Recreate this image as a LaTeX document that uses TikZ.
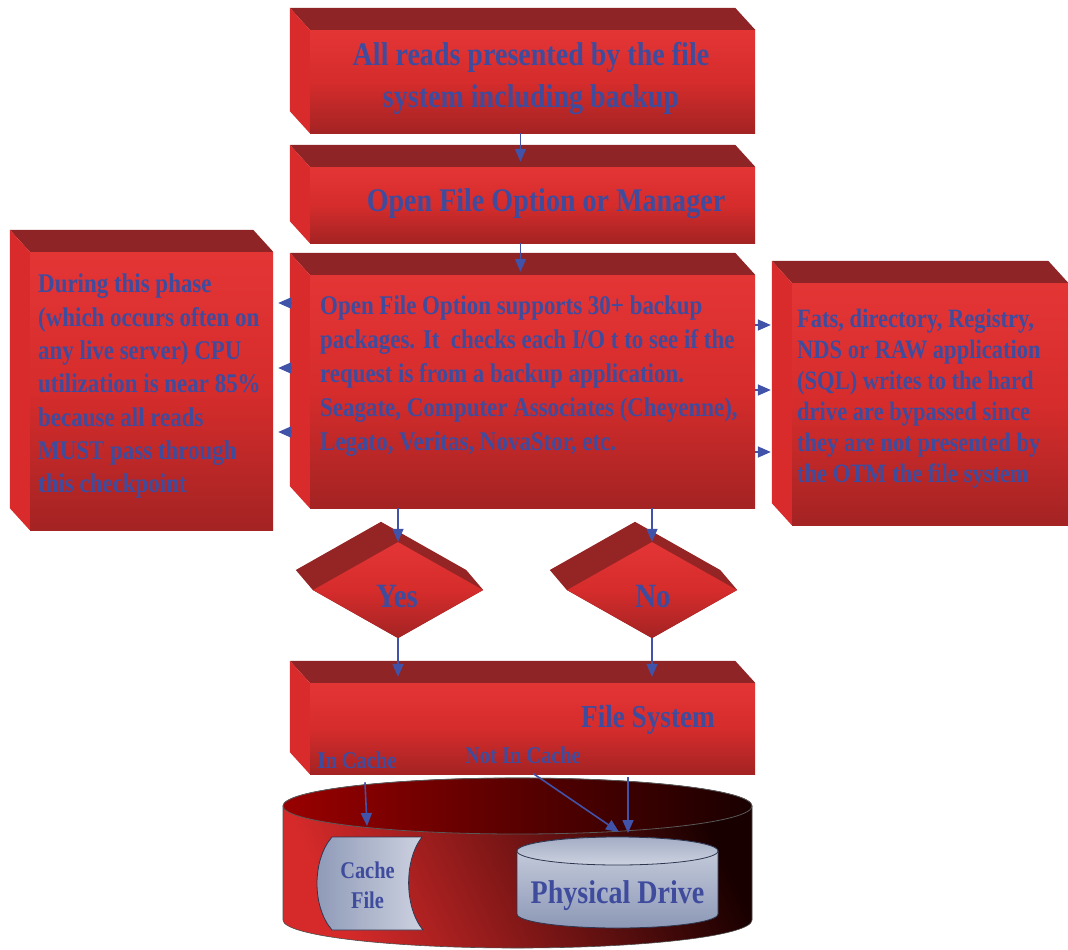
\documentclass[tikz,border=0pt]{standalone}
\usepackage{fontspec}
\setmainfont{Liberation Serif}[FakeStretch=0.85]
\usepackage{tikz}
\usetikzlibrary{arrows.meta, shapes.geometric, calc, backgrounds}
\definecolor{boxtop}{HTML}{8E2426}
\definecolor{boxside}{HTML}{D92B2B}
\definecolor{boxhi}{HTML}{E43535}
\definecolor{boxmid}{HTML}{D62C2C}
\definecolor{boxlo}{HTML}{A42323}
\definecolor{cylred}{HTML}{D62A2A}
\definecolor{txtblue}{HTML}{3F4C9E}
\definecolor{arrblue}{HTML}{4153A8}
\definecolor{drivehi}{HTML}{CDD2E0}
\definecolor{drivelo}{HTML}{8C98B6}
\definecolor{driverim}{HTML}{2E3650}

\begin{document}
\begin{tikzpicture}[x=1pt,y=-1pt,
  front/.style={top color=boxhi, bottom color=boxlo, middle color=boxmid, inner sep=0pt},
  topface/.style={fill=boxtop},
  sideface/.style={fill=boxside},
  decide/.style={diamond, top color=boxhi, bottom color=boxlo, middle color=boxmid, inner sep=0pt, minimum width=170, minimum height=96},
  txt/.style={text=txtblue, inner sep=0pt},
  arr/.style={draw=arrblue, line width=1.6pt, -{Triangle[length=13pt,width=11pt]}}]
\useasboundingbox (0,0) rectangle (1068,950);
%% boxes
\node[front, minimum width=445, minimum height=103] (reads) at (532.5,81.5) {};
\node[front, minimum width=445, minimum height=76] (manager) at (532.5,205) {};
\node[front, minimum width=445, minimum height=233] (check) at (532.5,391.5) {};
\node[front, minimum width=243, minimum height=278] (during) at (151.5,391) {};
\node[front, minimum width=276, minimum height=242] (fats) at (930,404) {};
\node[front, minimum width=445, minimum height=91] (fsys) at (532.5,728.5) {};
\foreach \b in {reads,manager,check,during,fats,fsys}{
  \fill[topface] (\b.north west) -- ++(-20,-22) -- ($(\b.north east)+(-20,-22)$) -- (\b.north east) -- cycle;
  \fill[sideface] (\b.north west) -- ++(-20,-22) -- ($(\b.south west)+(-20,-22)$) -- (\b.south west) -- cycle;
}
%% decisions
\node[decide] (yes) at (398,590) {};
\node[decide] (no) at (652,590) {};
\begin{scope}[on background layer]
\foreach \d in {yes,no}
  \fill[fill=boxtop!70!boxlo] ($(\d.west)+(-17,-20)$) -- ($(\d.north)+(-17,-20)$) -- ($(\d.east)+(-17,-20)$) -- (\d.east) -- (\d.south) -- (\d.west) -- cycle;
\end{scope}
%% texts
\node[txt, font=\bfseries\fontsize{33}{42}\selectfont, align=center, anchor=north] (readstxt) at (531,42) {All reads presented by the file\\system including backup};
\node[txt, font=\bfseries\fontsize{33}{40}\selectfont, anchor=base] (managertxt) at (546,211) {Open File Option or Manager};
\node[txt, font=\bfseries\fontsize{27}{34}\selectfont, align=left, anchor=north west] (checktxt) at (320,296) {Open File Option supports 30+ backup\\packages. It\ \ checks each I/O t to see if the\\request is from a backup application.\\Seagate, Computer Associates (Cheyenne),\\Legato, Veritas, NovaStor, etc.};
\node[txt, font=\bfseries\fontsize{27}{33.3}\selectfont, align=left, anchor=north west] (duringtxt) at (38,274) {During this phase\\(which occurs often on\\any live server) CPU\\utilization is near 85\%\\because all reads\\MUST pass through\\this checkpoint};
\node[txt, font=\bfseries\fontsize{26.5}{31}\selectfont, align=left, anchor=north west] (fatstxt) at (797,309) {Fats, directory, Registry,\\NDS or RAW application\\(SQL) writes to the hard\\drive are bypassed since\\they are not presented by\\the OTM the file system};
\node[txt, font=\bfseries\fontsize{34}{40}\selectfont, anchor=base] (yestxt) at (397,607) {Yes};
\node[txt, font=\bfseries\fontsize{34}{40}\selectfont, anchor=base] (notxt) at (653,607) {No};
\node[txt, font=\bfseries\fontsize{32}{40}\selectfont, anchor=base] (fsystxt) at (648,727) {File System};
\node[txt, font=\bfseries\fontsize{24}{30}\selectfont, anchor=base] (incache) at (357,768) {In Cache};
\node[txt, font=\bfseries\fontsize{24}{30}\selectfont, anchor=base] (notincache) at (523,763) {Not In Cache};
%% disk
\shade[top color=black!90!red, middle color=cylred!80!black, bottom color=cylred, shading angle=-65, draw=gray!60!black, line width=0.6pt] (283,806) -- (283,920) arc[start angle=180, end angle=360, x radius=234.5pt, y radius=28pt] -- (752,806) arc[start angle=0, end angle=180, x radius=234.5pt, y radius=28pt] -- cycle;
\shade[left color=red!60!black, right color=black!90!red, draw=gray!70!black, line width=0.8pt] (517.5,806) ellipse[x radius=234.5pt, y radius=28pt];
%cache file
\shade[left color=drivelo, right color=drivehi, draw=driverim, line width=0.8pt] (332,837) -- (422,837) .. controls (404,860) and (404,907) .. (423,930) -- (332,930) .. controls (312,907) and (312,860) .. (332,837) -- cycle;
\node[txt, font=\bfseries\fontsize{24}{30}\selectfont, align=center, anchor=north] (cachefile) at (367.5,862) {Cache\\File};
%physical drive
\shade[top color=drivehi, bottom color=drivelo, draw=driverim, line width=0.8pt] (517,851) -- (517,914) arc[start angle=180, end angle=360, x radius=100.5pt, y radius=14pt] -- (718,851) arc[start angle=0, end angle=180, x radius=100.5pt, y radius=14pt] -- cycle;
\shade[top color=drivelo!80!white, bottom color=drivehi, draw=driverim, line width=0.8pt] (617.5,851) ellipse[x radius=100.5pt, y radius=14pt];
\node[txt, font=\bfseries\fontsize{33}{40}\selectfont, anchor=base] (drive) at (617.5,903) {Physical Drive};
\coordinate (cachein) at (367,826);
\coordinate (drivein) at (619,832);
\coordinate (drivein2) at (628,833);
%% arrows
\draw[arr, shorten >=5pt] ([xshift=-12pt]reads.south) -- ([xshift=-12pt]manager.north);
\draw[arr, shorten >=3pt] ([xshift=-12pt]manager.south) -- ([xshift=-12pt]check.north);
\foreach \yy in {303,368,432}
  \draw[arr, shorten <=18pt, shorten >=5pt] (check.west |- 0,\yy) -- (during.east |- 0,\yy);
\foreach \yy in {325,390,452}
  \draw[arr, shorten >=21pt] (check.east |- 0,\yy) -- (fats.west |- 0,\yy);
\draw[arr] (check.south -| yes.north) -- (yes.north);
\draw[arr] (check.south -| no.north) -- (no.north);
\draw[arr, shorten >=6pt] (yes.south) -- (yes.south |- fsys.north);
\draw[arr, shorten >=6pt] (no.south) -- (no.south |- fsys.north);
\draw[arr] ([shift={(8,14)}]incache.south) -- (cachein);
\draw[arr] ([shift={(10,10)}]notincache.south) -- (drivein);
\draw[arr] ([shift={(0,3)}]fsys.south -| drivein2) -- (drivein2);
\end{tikzpicture}
\end{document}
